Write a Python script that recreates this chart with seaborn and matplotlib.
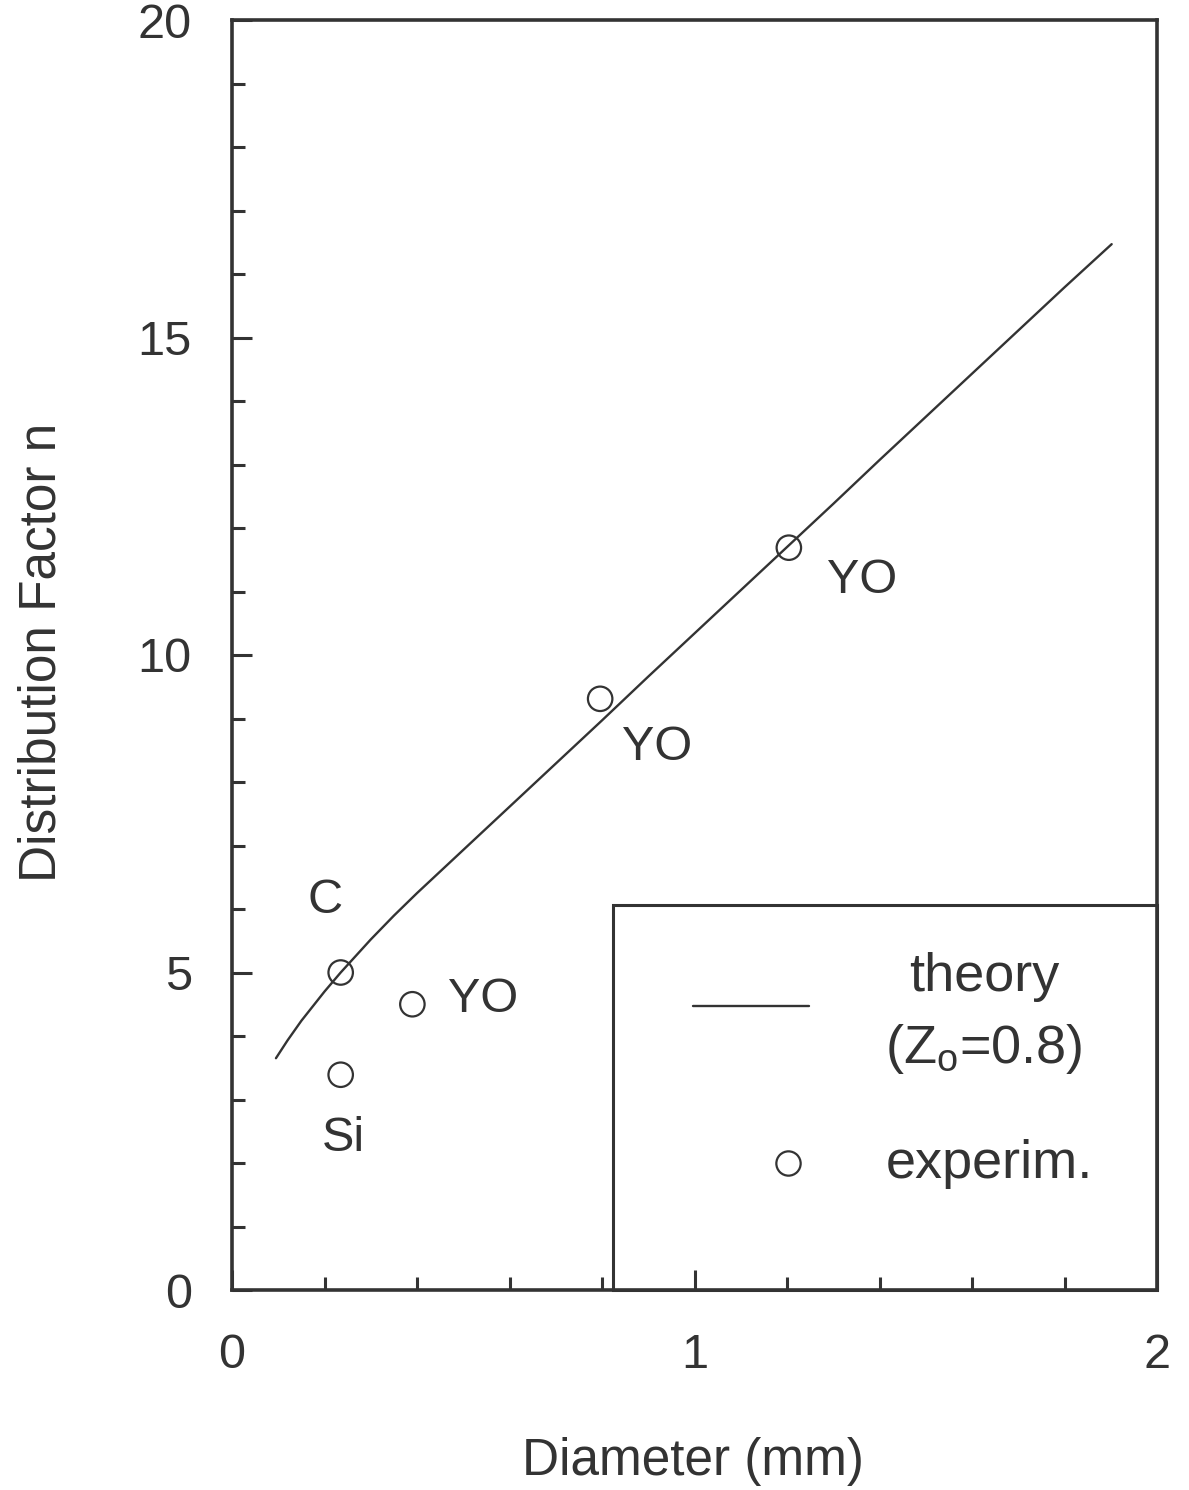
import matplotlib
matplotlib.use("Agg")
import matplotlib.pyplot as plt
import seaborn as sns
import pandas as pd
from matplotlib.lines import Line2D
from matplotlib.legend_handler import HandlerLine2D
from matplotlib.patches import Rectangle
from matplotlib.ticker import MultipleLocator

# ---- data ----
theory_x = [0.095, 0.12, 0.15, 0.20, 0.235, 0.30, 0.35, 0.40, 0.50, 0.60, 0.70,
            0.80, 0.90, 1.00, 1.10, 1.20, 1.30, 1.40, 1.50, 1.60, 1.70, 1.80, 1.902]
theory_y = [3.65, 3.93, 4.24, 4.70, 5.00, 5.52, 5.895, 6.25, 6.93, 7.61, 8.29,
            8.97, 9.66, 10.34, 11.02, 11.70, 12.38, 13.07, 13.75, 14.43, 15.11,
            15.79, 16.47]

exp_x = [0.235, 0.235, 0.39, 0.796, 1.204]
exp_y = [5.00, 3.39, 4.50, 9.31, 11.69]

ann_text = ["C", "Si", "YO", "YO", "YO"]
ann_x = [0.201, 0.240, 0.543, 0.919, 1.362]
ann_y = [6.14, 2.39, 4.57, 8.55, 11.17]

x_ticks = [0, 1, 2]
y_ticks = [0, 5, 10, 15, 20]

theory_label = "theory\n(Z$_\\mathregular{o}$=0.8)"
exp_label = "experim."
x_label = "Diameter (mm)"
y_label = "Distribution Factor n"

# ---- style ----
sns.set_theme(style="ticks")
INK = "#333333"
plt.rcParams["font.family"] = ["Liberation Sans", "DejaVu Sans"]
plt.rcParams["mathtext.default"] = "regular"
plt.rcParams["text.color"] = INK
plt.rcParams["axes.edgecolor"] = INK
plt.rcParams["xtick.color"] = INK
plt.rcParams["ytick.color"] = INK

FS = 34
LFS = 39

fig = plt.figure(figsize=(11.89, 14.9), dpi=100)
ax = fig.add_axes([232 / 1189, 1 - 1290 / 1490, (1157 - 232) / 1189, (1290 - 20) / 1490])

df_t = pd.DataFrame({"x": theory_x, "y": theory_y})
df_e = pd.DataFrame({"x": exp_x, "y": exp_y})

sns.lineplot(data=df_t, x="x", y="y", ax=ax, color=INK, linewidth=1.7,
             sort=False, estimator=None, label=theory_label, legend=False)
sns.scatterplot(data=df_e, x="x", y="y", ax=ax, marker="o", s=310,
                facecolors="none", edgecolor=INK, linewidth=1.6, zorder=3,
                legend=False)

for t, xx, yy in zip(ann_text, ann_x, ann_y):
    ax.text(xx, yy, t, ha="center", va="center", fontsize=FS + 1, color=INK)

ax.set_xlim(0, 2)
ax.set_ylim(0, 20)
ax.set_xticks(x_ticks)
ax.set_yticks(y_ticks)
ax.xaxis.set_minor_locator(MultipleLocator(0.2))
ax.yaxis.set_minor_locator(MultipleLocator(1))
ax.tick_params(which="both", direction="in", top=False, right=False,
               width=2.2, colors=INK, labelsize=FS + 1)
ax.tick_params(axis="x", which="major", length=14.5, pad=31)
ax.tick_params(axis="y", which="major", length=14.5, pad=29)
ax.tick_params(which="minor", length=9.5)
for sp in ax.spines.values():
    sp.set_linewidth(2.6)
    sp.set_color(INK)

ax.set_xlabel(x_label, fontsize=37, color=INK)
ax.set_ylabel(y_label, fontsize=37, color=INK, va="center")
ax.xaxis.set_label_coords(0.498, -0.116)
ax.yaxis.set_label_coords(-0.205, 0.502)

# legend box
box = Rectangle(((613 - 232) / 925, 0), (1157 - 613) / 925, (1290 - 905) / 1270,
                transform=ax.transAxes, fill=False, edgecolor=INK, linewidth=2.2,
                zorder=4, clip_on=False)
ax.add_patch(box)


class ShiftedHandle(HandlerLine2D):
    """Legend handle with the marker moved right and the line moved up."""

    def __init__(self, dx_frac=0.0, dy_px=0.0, **kw):
        super().__init__(**kw)
        self.dx_frac = dx_frac
        self.dy_px = dy_px

    def create_artists(self, legend, orig_handle, xdescent, ydescent, width,
                       height, fontsize, trans):
        arts = super().create_artists(legend, orig_handle, xdescent, ydescent,
                                      width, height, fontsize, trans)
        for a in arts:
            xd = list(a.get_xdata())
            yd = list(a.get_ydata())
            if a.get_marker() not in (None, "None", "", " "):
                a.set_xdata([v + self.dx_frac * width for v in xd])
            a.set_ydata([v + self.dy_px for v in yd])
        return arts


line_handle = ax.get_lines()[0]
exp_handle = Line2D([], [], linestyle="none", marker="o", markersize=17.5,
                    markerfacecolor="none", markeredgecolor=INK,
                    markeredgewidth=1.6)

leg = ax.legend([line_handle, exp_handle], [theory_label, exp_label],
                loc="upper left",
                bbox_to_anchor=((693 - 232) / 925, (1290 - 952) / 1270),
                frameon=False, fontsize=LFS, handlelength=2.15,
                handletextpad=1.4, borderpad=0, borderaxespad=0,
                labelspacing=1.15,
                handler_map={exp_handle: ShiftedHandle(dx_frac=0.32, dy_px=-3),
                             line_handle: ShiftedHandle(dy_px=6)})
for txt in leg.get_texts():
    txt.set_color(INK)
    txt.set_multialignment("center")
    txt.set_linespacing(1.5)

fig.savefig("out.png", dpi=100, facecolor="white")
